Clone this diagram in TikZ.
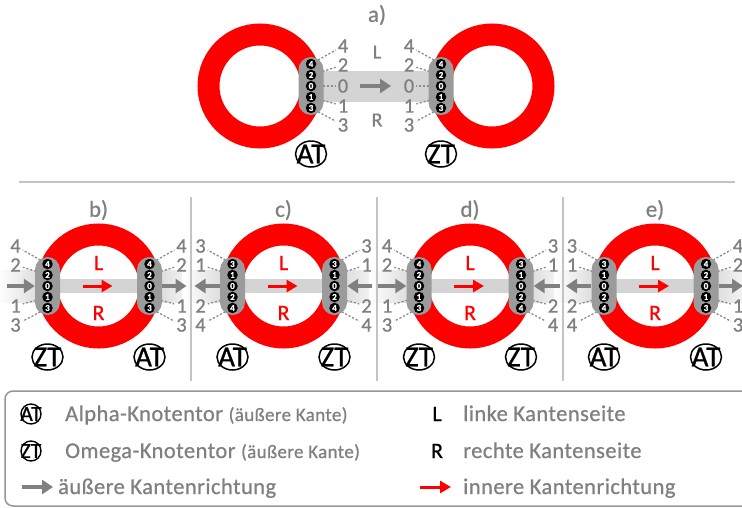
\documentclass[tikz,border=0pt]{standalone}
\usepackage{fontspec}
\setmainfont{Carlito}[FakeBold=0.8]
\newfontfamily\legendfont{Carlito}[LetterSpace=2,FakeBold=0.8]
\usetikzlibrary{arrows.meta,shapes.geometric,calc}

\definecolor{ringred}{RGB}{255,0,0}
\definecolor{pillgray}{RGB}{155,155,155}
\definecolor{bandgray}{RGB}{212,212,212}
\definecolor{arrowgray}{RGB}{128,128,128}
\definecolor{labelgray}{RGB}{128,128,128}
\definecolor{tickgray}{RGB}{140,140,140}
\definecolor{rulegray}{RGB}{196,196,196}
\definecolor{framegray}{RGB}{150,150,150}

\pgfdeclarelayer{band}
\pgfdeclarelayer{ring}
\pgfdeclarelayer{tick}
\pgfsetlayers{band,ring,tick,main}

\newcommand\pxsize[1]{\fontsize{#1}{#1}\selectfont}

\tikzset{
  ring/.style={draw=ringred, line width=22pt},
  pill/.style={fill=pillgray, rounded corners=12.5pt, minimum width=25pt,
    minimum height=58pt, inner sep=0pt},
  portdot/.style={circle, fill=black, minimum size=10.5pt, inner sep=0pt,
    text=white, font=\pxsize{9}\bfseries},
  portnum/.style={text=labelgray, font=\pxsize{20.5}, inner sep=0.5pt},
  porttick/.style={draw=tickgray, line width=1.3pt, dash pattern=on 2.2pt off 1.8pt,
    shorten >=1.5pt},
  gate/.style={ellipse, draw=black, line width=1.5pt, minimum width=31pt,
    minimum height=26pt, inner sep=0pt, label={[gatetext]center:#1}},
  gatetext/.style={font=\pxsize{29}, inner sep=0pt},
  smallgate/.style={circle, draw=black, line width=1.4pt, minimum size=20pt,
    inner sep=0pt, label={[smallgatetext]center:#1}},
  smallgatetext/.style={font=\pxsize{21.5}, inner sep=0pt},
  outarrow/.style={draw=arrowgray, line width=4.5pt, -{Triangle[length=11pt, width=14pt]}},
  innerarrow/.style={draw=ringred, line width=3pt, -{Triangle[length=11pt, width=12pt]}},
  paneltitle/.style={text=labelgray, font=\pxsize{23}},
  sidered/.style={text=ringred, font=\pxsize{22}},
  sidegray/.style={text=labelgray, font=\pxsize{20}},
  separator/.style={draw=rulegray, line width=1.5pt},
  legendframe/.style={draw=framegray, line width=1.5pt, rounded corners=8pt},
  legendtext/.style={text=labelgray, font=\legendfont\pxsize{22.5}, inner sep=0pt},
  legendkey/.style={text=black, font=\pxsize{22}, inner sep=0pt},
}

% column of five gate ports: #1 name, #2 x, #3 y, #4 side of the labels (+ or -),
% #5..#9 port numbers from top to bottom
\newcommand\portcolumn[9]{%
  \node[pill] (#1) at (#2,#3) {};
  \foreach \d [count=\i] in {#5,#6,#7,#8,#9}
    \node[portdot] (#1-\i) at (#2,{#3+(\i-3)*11}) {\d};
  \foreach \i/\d/\ly in {1/#5/-40,2/#6/-21,4/#8/20,5/#9/39} {
    \node[portnum] (#1-n\i) at ({#2 #4 32},{#3+\ly}) {\d};
    \begin{pgfonlayer}{tick}
      \draw[porttick] (#1-\i.center) -- (#1-n\i);
    \end{pgfonlayer}
  }%
}

% one loop edge: #1 name, #2 centre x, #3 title, #4 left gate, #5 right gate
\newcommand\ringpanel[5]{%
  \node[paneltitle] (#1-title) at (#2,210) {#3};
  \begin{pgfonlayer}{band}
    \shade[left color=white, middle color=bandgray, right color=bandgray]
      ({#2-51-50},270) rectangle ({#2-51},302);
    \shade[left color=bandgray, middle color=bandgray, right color=white]
      ({#2+51},270) rectangle ({#2+51+50},302);
  \end{pgfonlayer}
  \begin{pgfonlayer}{ring}
    \draw[ring] (#2,286) circle[radius=51.5pt];
  \end{pgfonlayer}
  \begin{pgfonlayer}{tick}
    \fill[bandgray] ({#2-51},279) rectangle ({#2+51},293);
  \end{pgfonlayer}
  \coordinate (#1-from) at ({#2-16},286);
  \coordinate (#1-to) at ({#2+14},286);
  \draw[innerarrow] (#1-from) -- (#1-to);
  \node[sidered] (#1-L) at (#2,263) {L};
  \node[sidered] (#1-R) at (#2,313) {R};
  \node[gate=#4] (#1-gl) at ({#2-51},357) {};
  \node[gate=#5] (#1-gr) at ({#2+51},357) {};
}

% outer edge direction at a port column
\newcommand\arrowin[3]{%
  \coordinate (#1-tail) at ($(#1.center)+(#2,0)$);
  \draw[outarrow] (#1-tail) -- (#1.#3);
}
\newcommand\arrowout[3]{%
  \coordinate (#1-head) at ($(#1.center)+(#2,0)$);
  \draw[outarrow] (#1.#3) -- (#1-head);
}

\begin{document}
\begin{tikzpicture}[x=1pt,y=-1pt]
\useasboundingbox (0,0) rectangle (742,507);

% ---------------- a) two separate nodes joined by an edge ----------------
\node[paneltitle] (a-title) at (377,15) {a)};
\begin{pgfonlayer}{band}
  \fill[bandgray] (311,70.5) rectangle (441,101.5);
\end{pgfonlayer}
\begin{pgfonlayer}{ring}
  \draw[ring] (260,86) circle[radius=51.5pt];
  \draw[ring] (492,86) circle[radius=51.5pt];
\end{pgfonlayer}
\portcolumn{aL}{311}{86}{+}{4}{2}{0}{1}{3}
\portcolumn{aR}{441}{86}{-}{4}{2}{0}{1}{3}
\node[portnum] (aL-n3) at (343,86) {0};
\node[portnum] (aR-n3) at (409,86) {0};
\begin{pgfonlayer}{tick}
  \draw[porttick] (aL-3.center) -- (aL-n3);
  \draw[porttick] (aR-3.center) -- (aR-n3);
\end{pgfonlayer}
\coordinate (a-from) at (360,86);
\coordinate (a-to) at (391,86);
\draw[outarrow] (a-from) -- (a-to);
\node[sidegray] (a-L) at (377,52) {L};
\node[sidegray] (a-R) at (377,120) {R};
\node[gate=AT] (a-AT) at (311,154) {};
\node[gate=ZT] (a-ZT) at (441,154) {};

% separators
\coordinate (h1) at (19,182);  \coordinate (h2) at (735,182);
\draw[separator] (h1) -- (h2);
\foreach \x [count=\k] in {191,377,563} {
  \coordinate (v\k-top) at (\x,197);
  \coordinate (v\k-bot) at (\x,381);
  \draw[separator] (v\k-top) -- (v\k-bot);
}

% ---------------- b) ----------------
\ringpanel{b}{98.5}{b)}{ZT}{AT}
\portcolumn{bL}{47.5}{286}{-}{4}{2}{0}{1}{3}
\portcolumn{bR}{149.5}{286}{+}{4}{2}{0}{1}{3}
\arrowin{bL}{-41}{west}
\arrowout{bR}{37}{east}

% ---------------- c) ----------------
\ringpanel{c}{283.5}{c)}{AT}{ZT}
\portcolumn{cL}{232.5}{286}{-}{3}{1}{0}{2}{4}
\portcolumn{cR}{334.5}{286}{+}{3}{1}{0}{2}{4}
\arrowout{cL}{-38}{west}
\arrowin{cR}{37}{east}

% ---------------- d) ----------------
\ringpanel{d}{470}{d)}{ZT}{ZT}
\portcolumn{dL}{419}{286}{-}{4}{2}{0}{1}{3}
\portcolumn{dR}{521}{286}{+}{3}{1}{0}{2}{4}
\arrowin{dL}{-41}{west}
\arrowin{dR}{39}{east}

% ---------------- e) ----------------
\ringpanel{e}{655}{e)}{AT}{AT}
\portcolumn{eL}{604}{286}{-}{3}{1}{0}{2}{4}
\portcolumn{eR}{706}{286}{+}{4}{2}{0}{1}{3}
\arrowout{eL}{-38}{west}
\arrowout{eR}{37}{east}

% ---------------- legend ----------------
\draw[legendframe] (5,391) rectangle (752,506);
\node[smallgate=AT] (k-AT) at (31,414) {};
\node[legendtext, anchor=base west] (k-alpha) at (65,421)
  {Alpha-Knotentor {\pxsize{19}(äußere Kante)}};
\node[smallgate=ZT] (k-ZT) at (31,451) {};
\node[legendtext, anchor=base west] (k-omega) at (65,458)
  {Omega-Knotentor {\pxsize{19}(äußere Kante)}};
\coordinate (k-out1) at (22,487); \coordinate (k-out2) at (53,487);
\draw[outarrow] (k-out1) -- (k-out2);
\node[legendtext, anchor=base west] (k-outer) at (58,494) {äußere Kantenrichtung};

\node[legendkey, anchor=base] (k-L) at (437,421) {L};
\node[legendtext, anchor=base west] (k-left) at (463,421) {linke Kantenseite};
\node[legendkey, anchor=base] (k-R) at (437,458) {R};
\node[legendtext, anchor=base west] (k-right) at (463,458) {rechte Kantenseite};
\coordinate (k-in1) at (420,487); \coordinate (k-in2) at (451,487);
\draw[innerarrow] (k-in1) -- (k-in2);
\node[legendtext, anchor=base west] (k-inner) at (463,494) {innere Kantenrichtung};
\end{tikzpicture}
\end{document}
